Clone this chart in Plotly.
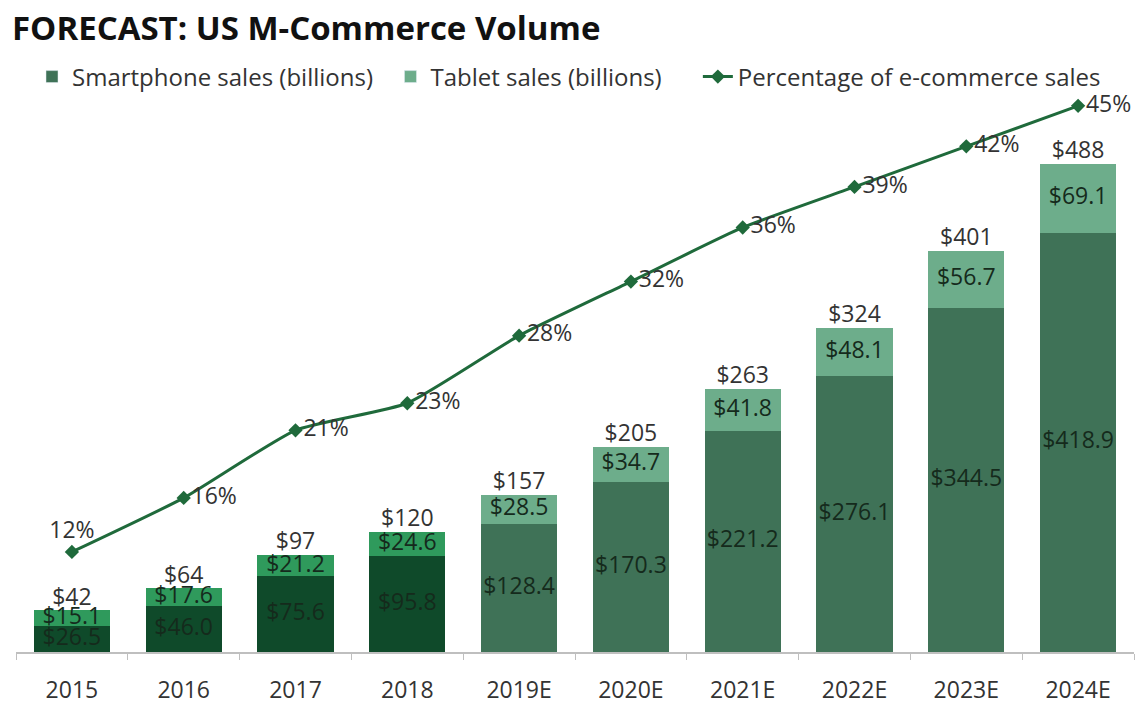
import plotly.graph_objects as go

years = ["2015", "2016", "2017", "2018", "2019E", "2020E", "2021E", "2022E", "2023E", "2024E"]
smartphone = [26.5, 46.0, 75.6, 95.8, 128.4, 170.3, 221.2, 276.1, 344.5, 418.9]
tablet = [15.1, 17.6, 21.2, 24.6, 28.5, 34.7, 41.8, 48.1, 56.7, 69.1]
totals = [42, 64, 97, 120, 157, 205, 263, 324, 401, 488]
pct = [12, 16, 21, 23, 28, 32, 36, 39, 42, 45]

n_actual = 4
SP_ACT, SP_FC = "#0f4a2a", "#3f7257"
TB_ACT, TB_FC = "#2f9a5c", "#6dad8b"
LINE = "#1f6a3b"
FONT = "Open Sans"
TS = 23
NB = "\u00a0"

# the page body adds an 8px offset, so the figure is sized to fit the window
W, H = 1136, 696

sp_colors = [SP_ACT if i < n_actual else SP_FC for i in range(len(years))]
tb_colors = [TB_ACT if i < n_actual else TB_FC for i in range(len(years))]

fig = go.Figure()

fig.add_trace(go.Bar(x=years, y=smartphone, marker_color=sp_colors, marker_line_width=0,
                     showlegend=False, hoverinfo="skip"))
fig.add_trace(go.Bar(x=years, y=tablet, marker_color=tb_colors, marker_line_width=0,
                     showlegend=False, hoverinfo="skip"))

# legend entries
fig.add_trace(go.Bar(x=[None], y=[None], marker_color=SP_FC, name="Smartphone sales (billions)" + NB * 2))
fig.add_trace(go.Bar(x=[None], y=[None], marker_color=TB_FC, name="Tablet sales (billions)" + NB * 5))

# segment labels
fig.add_trace(go.Scatter(
    x=years, y=[s / 2 for s in smartphone], mode="text", cliponaxis=False,
    text=[f"${v:.1f}" for v in smartphone], textposition="middle center",
    textfont=dict(size=TS, color="#152a1c", family=FONT), showlegend=False, hoverinfo="skip"))
fig.add_trace(go.Scatter(
    x=years, y=[s + t / 2 for s, t in zip(smartphone, tablet)], mode="text", cliponaxis=False,
    text=[f"${v:.1f}" for v in tablet], textposition="middle center",
    textfont=dict(size=TS, color="#152a1c", family=FONT), showlegend=False, hoverinfo="skip"))
fig.add_trace(go.Scatter(
    x=years, y=[s + t for s, t in zip(smartphone, tablet)], mode="text", cliponaxis=False,
    text=[f"${v}" for v in totals], textposition="top center",
    textfont=dict(size=TS, color="#333333", family=FONT), showlegend=False, hoverinfo="skip"))

fig.add_trace(go.Scatter(
    x=years, y=pct, yaxis="y2", mode="lines+markers+text", cliponaxis=False,
    name="Percentage of e-commerce sales",
    line=dict(color=LINE, width=3, shape="spline", smoothing=0.5),
    marker=dict(symbol="diamond", size=11, color=LINE),
    text=[f"{v}%" for v in pct],
    textposition=["top center"] + ["middle right"] * (len(pct) - 1),
    textfont=dict(size=TS, color="#333333", family=FONT),
    hoverinfo="skip"))

fig.update_layout(
    width=W, height=H,
    barmode="stack", bargap=0.32,
    plot_bgcolor="white", paper_bgcolor="white",
    margin=dict(l=8, r=10, t=92, b=52, autoexpand=False),
    font=dict(family=FONT, color="#333333"),
    title=dict(text="<b>FORECAST: US M-Commerce Volume</b>", x=4 / W, xanchor="left", xref="container",
               y=1 - 20 / H, yanchor="middle", yref="container",
               font=dict(size=33, color="#111111", family=FONT)),
    legend=dict(orientation="h", x=24 / W, xanchor="left", xref="container",
                y=1 - 69 / H, yanchor="middle", yref="container",
                font=dict(size=24, color="#333333", family=FONT), traceorder="normal",
                itemwidth=30, bgcolor="rgba(0,0,0,0)"),
    xaxis=dict(type="category", range=[-0.5, 9.5], showline=True, linecolor="#bfbfbf", linewidth=1.5,
               ticks="outside", tickson="boundaries", ticklen=6, tickcolor="#bfbfbf",
               ticklabelstandoff=17,
               tickfont=dict(size=TS, color="#333333", family=FONT), showgrid=False),
    yaxis=dict(range=[0, 552], visible=False, showgrid=False),
    yaxis2=dict(range=[4.6, 45.43], overlaying="y", visible=False, showgrid=False),
)

fig.write_html("out.html")
